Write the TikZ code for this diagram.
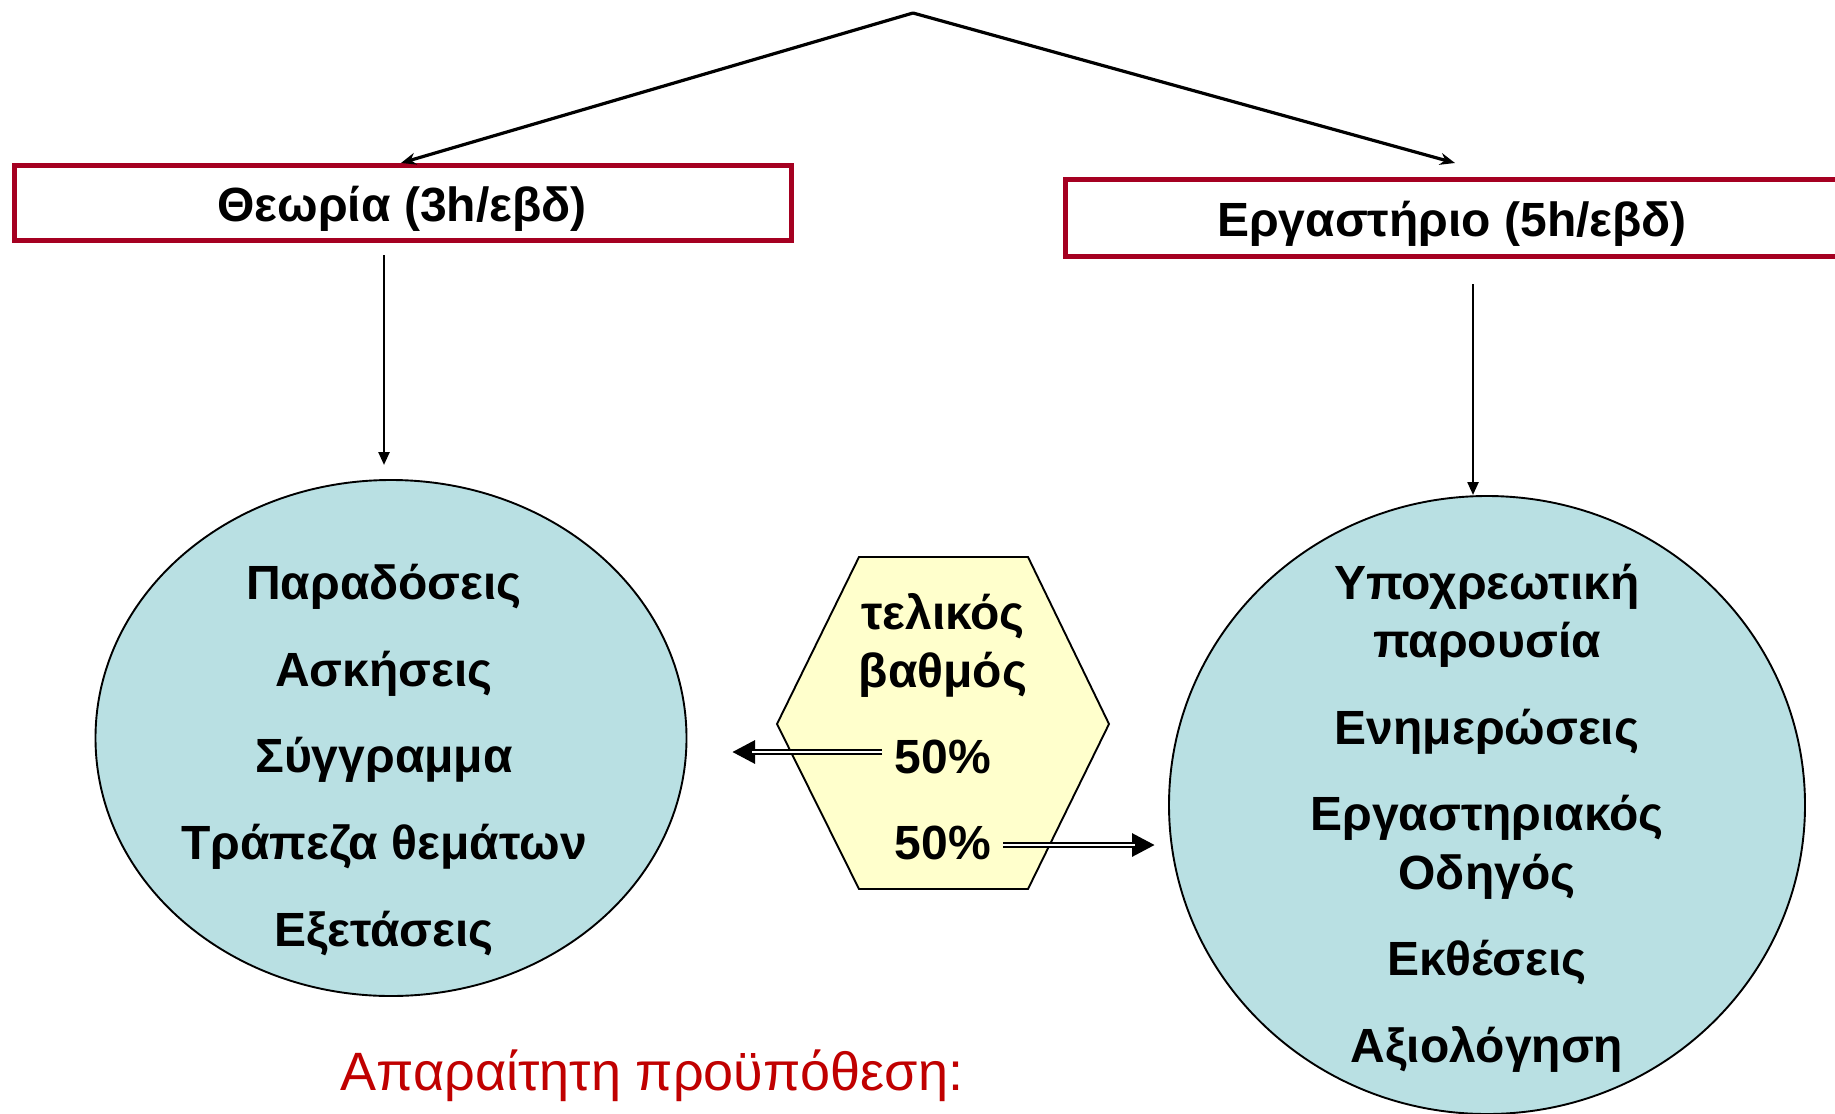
\documentclass[tikz,border=0pt]{standalone}
\usepackage{fontspec}
\setmainfont{Liberation Sans}
\usetikzlibrary{arrows.meta,shapes.geometric}
\definecolor{boxred}{HTML}{A50021}
\definecolor{ellfill}{HTML}{B9E0E3}
\definecolor{hexfill}{HTML}{FFFFCC}
\definecolor{txtred}{HTML}{C00000}
\tikzset{
  titlebox/.style={draw=boxred, line width=5pt, fill=white, inner sep=0pt,
    font=\fontsize{48}{56}\selectfont\bfseries},
  bubble/.style={ellipse, draw=black, line width=1.9pt, fill=ellfill, inner sep=0pt},
  itemtext/.style={align=center, inner sep=0pt, font=\fontsize{48}{86.6}\selectfont\bfseries},
  toparrow/.style={line width=3.2pt, -{Stealth[length=15pt,width=12pt]}},
  downarrow/.style={line width=2.4pt, -{Triangle[length=13pt,width=11pt]}},
  dblarrow/.style={line width=6.5pt, -{Triangle[length=23pt,width=22pt]},
    postaction={draw=white, line width=2.5pt, -, shorten >=20pt}},
}
\begin{document}
\begin{tikzpicture}[x=1pt,y=-1pt]
\useasboundingbox (0,0) rectangle (1835,1113);
\clip (0,0) rectangle (1835,1113);
\fill[white] (0,0) rectangle (1835,1113);

% title boxes
\node[titlebox, minimum width=777pt, minimum height=75pt] (theory) at (403,203) {};
\node[inner sep=0pt, font=\fontsize{48}{56}\selectfont\bfseries] (theorytxt) at (402,209) {Θεωρία (3h/εβδ)};
\node[titlebox, minimum width=773pt, minimum height=77pt] (lab) at (1452,218) {};
\node[inner sep=0pt, font=\fontsize{48}{56}\selectfont\bfseries] (labtxt) at (1452,224) {Εργαστήριο (5h/εβδ)};

% top split arrows
\coordinate (apex) at (913,13);
\coordinate (ltop) at (401,163);
\coordinate (rtop) at (1455,163);
\draw[toparrow] (apex) -- (ltop);
\draw[toparrow] (apex) -- (rtop);

% ellipses
\node[bubble, minimum width=591pt, minimum height=516pt] (lell) at (391,738) {};
\node[bubble, minimum width=636pt, minimum height=618pt] (rell) at (1487,805) {};

% vertical arrows
\coordinate (lstart) at (384,255);
\coordinate (lend) at (384,465);
\coordinate (rstart) at (1473,284);
\coordinate (rend) at (1473,495);
\draw[downarrow] (lstart) -- (lend);
\draw[downarrow] (rstart) -- (rend);

% ellipse texts
\node[itemtext] (ltext) at (384,760) {Παραδόσεις\\Ασκήσεις\\Σύγγραμμα\\Τράπεζα θεμάτων\\Εξετάσεις};
\node[itemtext, font=\fontsize{48}{58.5}\selectfont\bfseries] (rtext) at (1487,818)
  {Υποχρεωτική\\παρουσία\\[28pt]Ενημερώσεις\\[28pt]Εργαστηριακός\\Οδηγός\\[28pt]Εκθέσεις\\[28pt]Αξιολόγηση};

% hexagon
\coordinate (h1) at (859,557);
\coordinate (h2) at (1028,557);
\coordinate (h3) at (1109,724);
\coordinate (h4) at (1028,889);
\coordinate (h5) at (859,889);
\coordinate (h6) at (777,724);
\draw[line width=1.9pt, fill=hexfill] (h1) -- (h2) -- (h3) -- (h4) -- (h5) -- (h6) -- cycle;

\node[itemtext, font=\fontsize{48}{58}\selectfont\bfseries] (grade) at (943,645) {τελικός\\βαθμός};
\node[itemtext] (pa) at (943,757) {50\%};
\node[itemtext] (pb) at (943,843) {50\%};

% double arrows
\coordinate (da1) at (882,752);
\coordinate (da2) at (732,752);
\coordinate (db1) at (1003,845);
\coordinate (db2) at (1155,845);
\draw[dblarrow] (da1) -- (da2);
\draw[dblarrow] (db1) -- (db2);

% bottom note
\node[anchor=base, inner sep=0pt, text=txtred, font=\fontsize{54}{60}\selectfont] (note) at (652,1090) {Απαραίτητη προϋπόθεση:};
\end{tikzpicture}
\end{document}
